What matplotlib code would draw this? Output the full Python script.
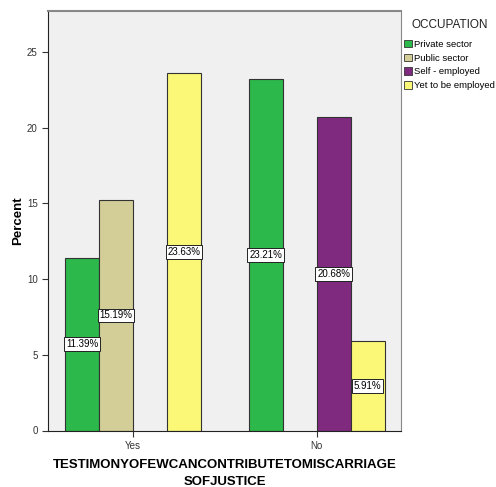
import numpy as np
import matplotlib.pyplot as plt
from matplotlib.patches import Patch

plt.rcParams['font.family'] = ['Liberation Sans', 'DejaVu Sans']

categories = ["Yes", "No"]
occupations = ["Private sector", "Public sector", "Self - employed", "Yet to be employed"]
colors = ["#2db84b", "#d3ce97", "#7f2a7f", "#fbf877"]
# percent per occupation for Yes / No (None = no bar)
values = {
    "Private sector": [11.39, 23.21],
    "Public sector": [15.19, None],
    "Self - employed": [None, 20.68],
    "Yet to be employed": [23.63, 5.91],
}

fig = plt.figure(figsize=(4.96, 4.87), dpi=100)
ax = fig.add_axes([48 / 496, 1 - 430.5 / 487, 353 / 496, 419.5 / 487])
ax.set_facecolor("#f0f0f0")

width = 0.185
x = np.arange(len(categories))
for i, occ in enumerate(occupations):
    off = (i - 1.5) * width
    for j, v in enumerate(values[occ]):
        if v is None:
            continue
        ax.bar(x[j] + off, v, width, color=colors[i], edgecolor="#333333", linewidth=0.8, zorder=2)
        ax.text(x[j] + off, v / 2, "%.2f%%" % v, ha="center", va="center", fontsize=7,
                zorder=3, bbox=dict(boxstyle="square,pad=0.2", fc="white", ec="#222222", lw=0.7))

ax.set_xlim(-0.463, 1.459)
ax.set_ylim(0, 27.7)
ax.set_yticks([0, 5, 10, 15, 20, 25])
ax.set_xticks(x)
ax.set_xticklabels(categories)
ax.tick_params(labelsize=7, colors="#333333", length=4, width=0.8)
for s in ["left", "bottom"]:
    ax.spines[s].set_color("#222222")
for s in ["top", "right"]:
    ax.spines[s].set_color("#888888")
ax.spines["top"].set_linewidth(1.5)

ax.set_ylabel("Percent", fontsize=9.5, fontweight="bold", labelpad=2)
ax.set_xlabel("TESTIMONYOFEWCANCONTRIBUTETOMISCARRIAGE\nSOFJUSTICE", fontsize=9.5,
              fontweight="bold", linespacing=1.55, labelpad=6)

# legend title drawn separately so the gap to the entries matches
fig.text(449.5 / 496, 1 - 25 / 487, "OCCUPATION", ha="center", va="center",
         fontsize=8.5, color="#222222")
handles = [Patch(facecolor=c, edgecolor="#333333", linewidth=0.6) for c in colors]
leg = fig.legend(handles, occupations, loc="upper left",
                 bbox_to_anchor=(401 / 496, 1 - 37 / 487), frameon=False, fontsize=6.8,
                 handlelength=0.85, handleheight=0.85, handletextpad=0.2,
                 labelspacing=0.5, borderaxespad=0, borderpad=0.3)

fig.savefig("out.png", dpi=100)
